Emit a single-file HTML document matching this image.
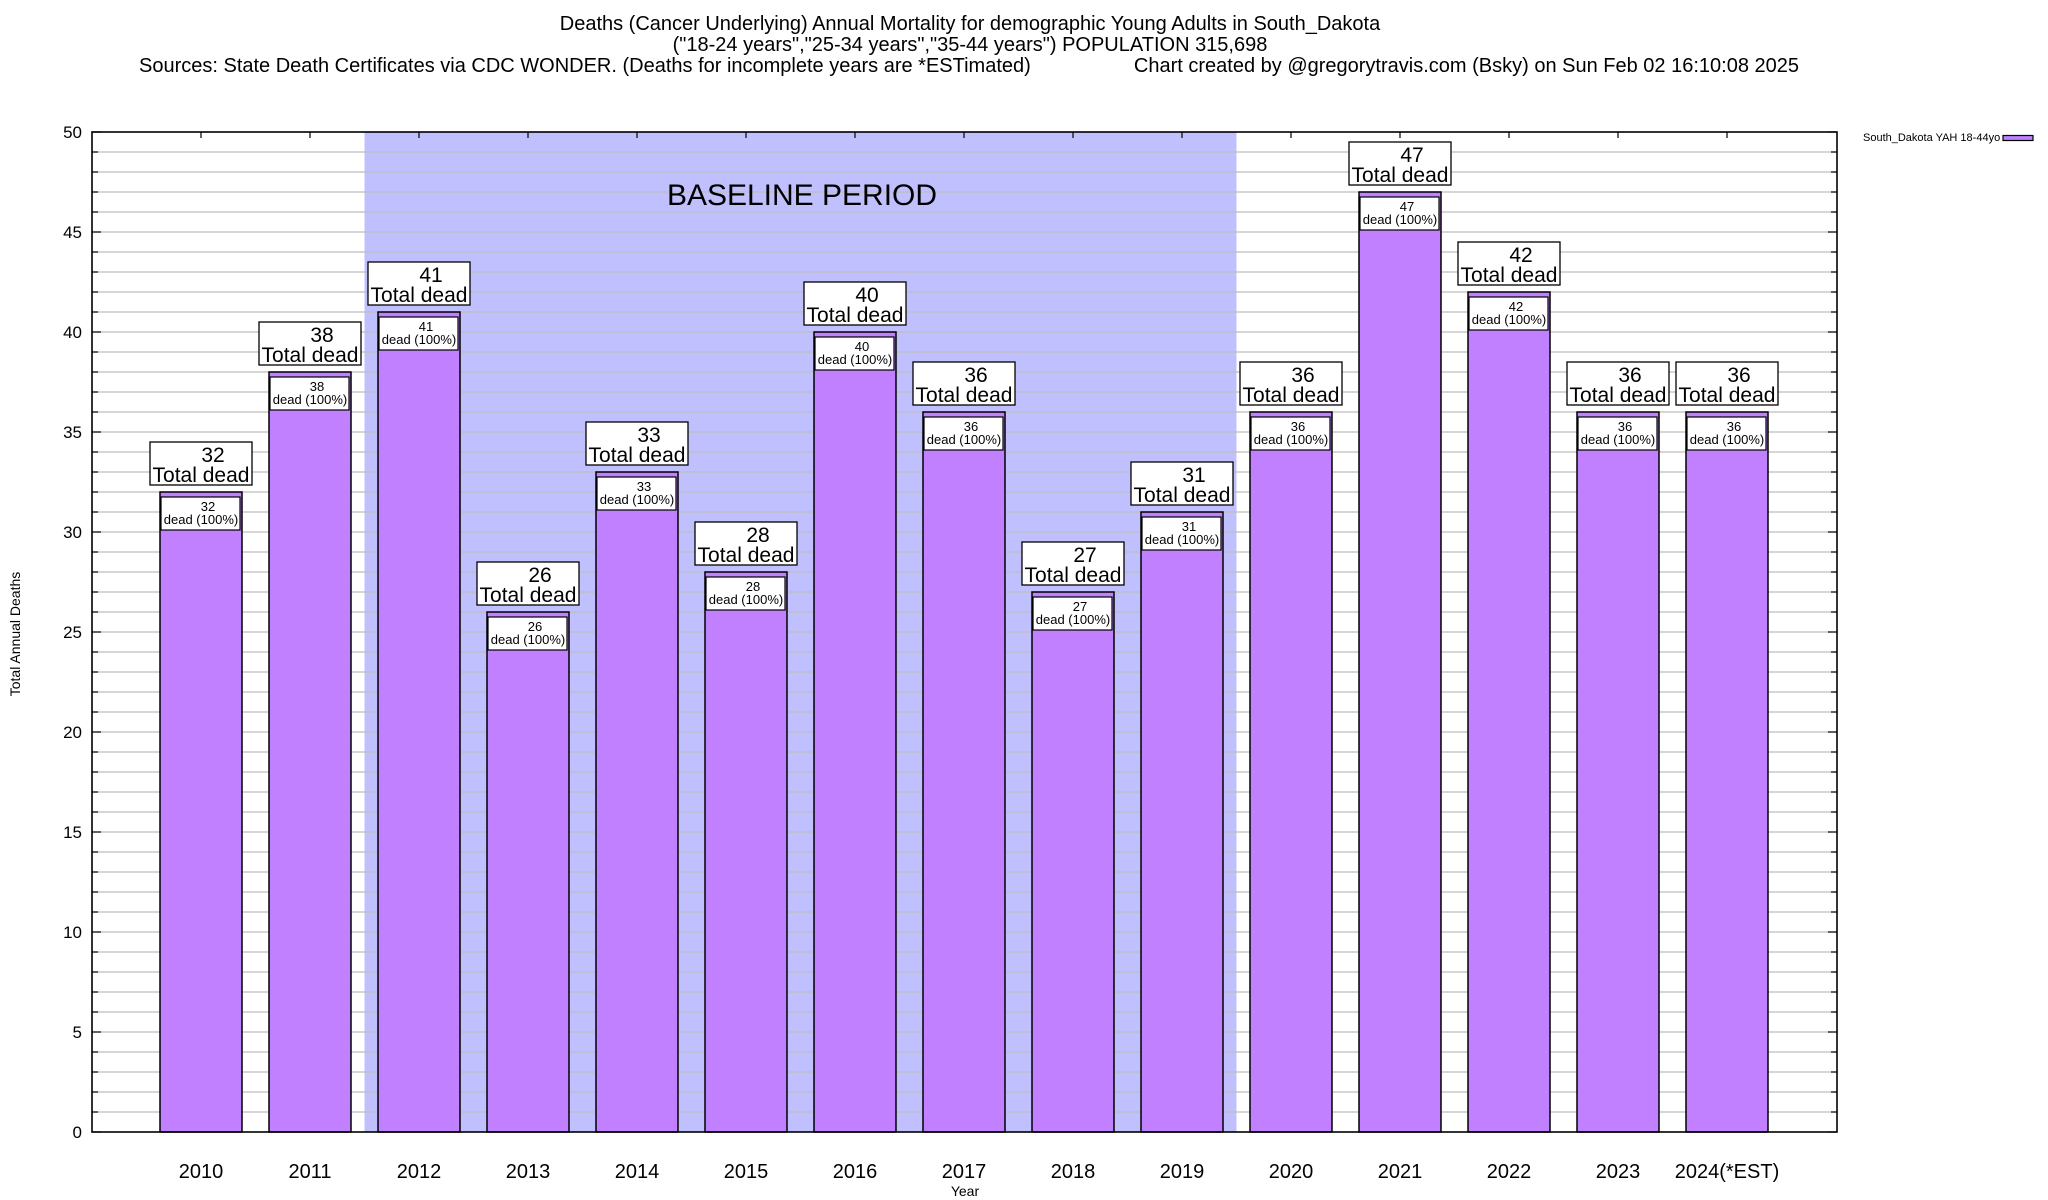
<!DOCTYPE html>
<html><head><meta charset="utf-8"><style>
body{margin:0;background:#fff}
svg{display:block;font-family:"Liberation Sans",sans-serif}
</style></head><body>
<svg id="chart" width="2048" height="1200" viewBox="0 0 2048 1200" xmlns="http://www.w3.org/2000/svg">
<rect width="2048" height="1200" fill="#fff"/>
<g font-size="20" fill="#000">
<text x="970" y="30" text-anchor="middle">Deaths (Cancer Underlying) Annual Mortality for demographic Young Adults in South_Dakota</text>
<text x="970" y="51" text-anchor="middle">("18-24 years","25-34 years","35-44 years") POPULATION 315,698</text>
<text x="139" y="72" text-anchor="start">Sources: State Death Certificates via CDC WONDER. (Deaths for incomplete years are *ESTimated)</text>
<text x="1799" y="72" text-anchor="end">Chart created by @gregorytravis.com (Bsky) on Sun Feb 02 16:10:08 2025</text>
</g>
<g id="plot"></g>
<text x="1863" y="141" font-size="11">South_Dakota YAH 18-44yo</text>
<rect x="2003" y="135.5" width="30" height="5" fill="#c080ff" stroke="#000" stroke-width="1.2"/>
<text transform="translate(20,634) rotate(-90)" text-anchor="middle" font-size="14">Total Annual Deaths</text>
<text x="965" y="1196" text-anchor="middle" font-size="14">Year</text>
</svg>
<script>
const categories=["2010","2011","2012","2013","2014","2015","2016","2017","2018","2019","2020","2021","2022","2023","2024(*EST)"];
const deaths=[32,38,41,26,33,28,40,36,27,31,36,47,42,36,36];
const yTicks=[0,5,10,15,20,25,30,35,40,45,50];
const baselineStart=2; const baselineEnd=9;
const L=92,R=1837,T=132,B=1132,yMax=50,slot=109;
const NS="http://www.w3.org/2000/svg";
const g=document.getElementById('plot');
function y(v){return B-(v/yMax)*(B-T);}
function x(i){return L+(i+1)*slot;}
function mk(tag,attrs,parent){const e=document.createElementNS(NS,tag);for(const k in attrs)e.setAttribute(k,attrs[k]);(parent||g).appendChild(e);return e;}
const sh=mk('rect',{x:x(baselineStart)-slot/2,y:T,width:(baselineEnd-baselineStart+1)*slot,height:B-T,fill:'#c0c0ff'});


for(let v=1;v<yMax;v++){const l=mk('line',{x1:L,x2:R,y1:y(v),y2:y(v),stroke:'#bdbdbd','stroke-width':1.3});

}
for(let v=0;v<=yMax;v++){const len=(v%5===0)?9:6;
const a=mk('line',{x1:L,x2:L+len,y1:y(v),y2:y(v),stroke:'#000','stroke-width':1.2});


const b=mk('line',{x1:R-len,x2:R,y1:y(v),y2:y(v),stroke:'#000','stroke-width':1.2});

}
const bl=mk('text',{x:802,y:205,'font-size':30,'text-anchor':'middle'});bl.textContent='BASELINE PERIOD';


yTicks.forEach(v=>{const t=mk('text',{x:82,y:y(v)+6,'font-size':17,'text-anchor':'end'});t.textContent=v;

});
categories.forEach((c,i)=>{
 const cx=x(i),v=deaths[i],bw=82,top=y(v);
 const tk=mk('line',{x1:cx,x2:cx,y1:T,y2:T+6,stroke:'#000','stroke-width':1.2});
 
 
 const r=mk('rect',{x:cx-bw/2,y:top,width:bw,height:B-top,fill:'#c080ff',stroke:'#000','stroke-width':1.5});
 
 
 const ib=mk('rect',{x:cx-bw/2+1,y:top+5,width:bw-3,height:33,fill:'#fff',stroke:'#000','stroke-width':1.2});
 
 
 const t1=mk('text',{x:cx+7,y:top+19,'font-size':13,'text-anchor':'middle'});t1.textContent=v;
 
 
 const t2=mk('text',{x:cx,y:top+32,'font-size':13,'text-anchor':'middle'});t2.textContent='dead (100%)';
 
 
 const ob=mk('rect',{x:cx-51,y:top-50,width:102,height:43,fill:'#fff',stroke:'#000','stroke-width':1.3});
 
 
 const t3=mk('text',{x:cx+12,y:top-30,'font-size':21,'text-anchor':'middle'});t3.textContent=v;
 
 
 const t4=mk('text',{x:cx,y:top-10,'font-size':21,'text-anchor':'middle'});t4.textContent='Total dead';
 
 
 const xl=mk('text',{x:cx,y:1178,'font-size':20,'text-anchor':'middle'});xl.textContent=c;
 
 
});
const fr=mk('rect',{x:L,y:T,width:R-L,height:B-T,fill:'none',stroke:'#000','stroke-width':1.6});


</script>
</body></html>
